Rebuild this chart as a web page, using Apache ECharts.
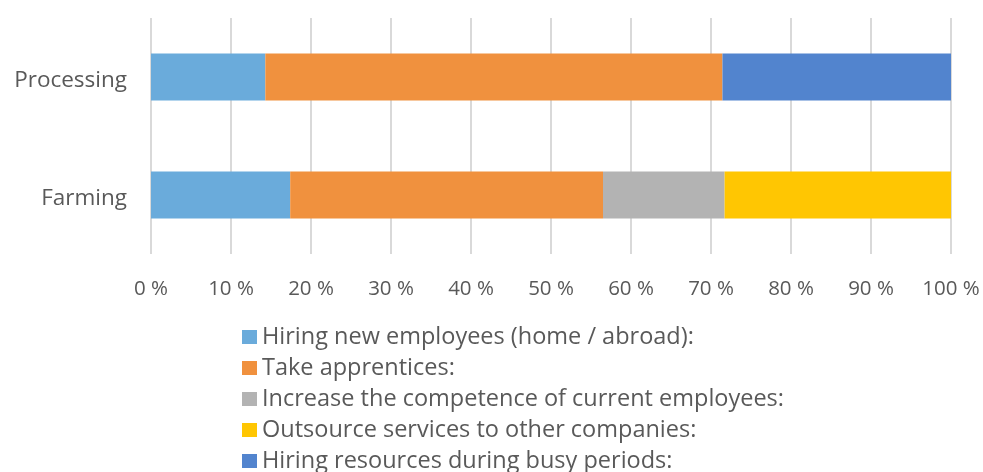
<!DOCTYPE html>
<html>
<head>
<meta charset="utf-8">
<script src="https://cdn.jsdelivr.net/npm/echarts@6/dist/echarts.min.js"></script>
<style>html,body{margin:0;padding:0;background:#fff;}#c{width:983px;height:472px;}</style>
</head>
<body>
<div id="c"></div>
<script>
const categories = ['Farming', 'Processing'];
const seriesNames = [
  'Hiring new employees (home / abroad):',
  'Take apprentices:',
  'Increase the competence of current employees:',
  'Outsource services to other companies:',
  'Hiring resources during busy periods:'
];
const hiringNew = [17.4, 14.29];
const apprentices = [39.1, 57.14];
const competence = [15.2, 0];
const outsource = [28.3, 0];
const busyPeriods = [0, 28.57];
const tickValues = [0, 10, 20, 30, 40, 50, 60, 70, 80, 90, 100];
const colors = ['#6AABDB', '#F0913E', '#B3B3B3', '#FFC602', '#5284CE'];

const values = [hiringNew, apprentices, competence, outsource, busyPeriods];
const font = '"Open Sans", Lato, sans-serif';
const chart = echarts.init(document.getElementById('c'));
chart.setOption({
  animation: false,
  color: colors,
  grid: { left: 151, right: 32, top: 18, bottom: 218, containLabel: false },
  xAxis: {
    type: 'value', min: 0, max: 100, interval: 10,
    axisLine: { show: false }, axisTick: { show: false },
    splitLine: { show: true, lineStyle: { color: '#d9d9d9', width: 2 } },
    axisLabel: { margin: 25, color: '#595959', fontSize: 20.5, fontFamily: font,
      formatter: v => tickValues.includes(v) ? v + ' %' : '' }
  },
  yAxis: {
    type: 'category', data: categories,
    axisLine: { show: false }, axisTick: { show: false },
    axisLabel: { margin: 24, color: '#595959', fontSize: 22.5, fontFamily: font,
      formatter: v => '{a|' + v + '}',
      rich: { a: { color: '#595959', fontSize: 22.5, fontFamily: font, padding: [8, 0, 0, 0] } } }
  },
  legend: {
    orient: 'vertical', left: 237, top: 320, height: 300,
    icon: 'rect', itemWidth: 15, itemHeight: 14, itemGap: 7,
    textStyle: { color: '#595959', fontSize: 23.5, fontFamily: font, lineHeight: 23 },
    data: seriesNames
  },
  series: seriesNames.map((n, i) => ({
    name: n, type: 'bar', stack: 'total', barWidth: '40%',
    data: values[i],
    itemStyle: { color: colors[i] }
  }))
});
</script>
</body>
</html>
